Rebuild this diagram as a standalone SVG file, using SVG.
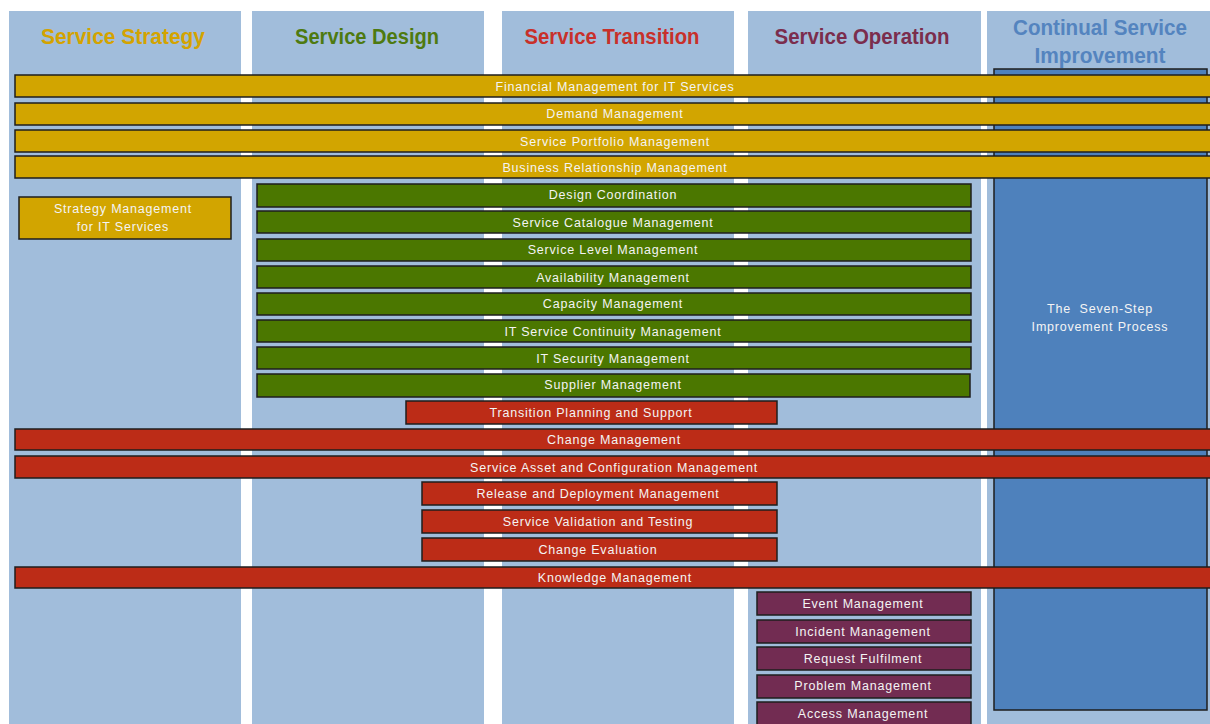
<svg xmlns="http://www.w3.org/2000/svg" width="1210" height="724" viewBox="0 0 1210 724">
<style>
.col{fill:#A1BDDB}
.hd{font-family:"Liberation Sans Narrow","Liberation Sans",Arial,sans-serif;font-weight:bold;font-size:22px;text-anchor:middle}
.bar rect{stroke:#1E1E1E;stroke-width:1.5}
.bar text{font-family:"Liberation Sans",Arial,sans-serif;font-size:12.5px;letter-spacing:0.8px;fill:#F4F4F4;text-anchor:middle}
.y rect{fill:#D2A500}
.g rect{fill:#4B7700}
.r rect{fill:#BC2C17}
.p rect{fill:#722C52}
</style>
<rect width="1210" height="724" fill="#FFFFFF"/>
<g id="columns">
<rect class="col" x="9" y="11" width="232" height="713"/>
<rect class="col" x="252" y="11" width="232" height="713"/>
<rect class="col" x="502" y="11" width="232" height="713"/>
<rect class="col" x="748" y="11" width="233" height="713"/>
<rect class="col" x="987" y="11" width="223" height="713"/>
<text class="hd" x="123" y="44" fill="#D4A300" textLength="164" lengthAdjust="spacingAndGlyphs">Service Strategy</text>
<text class="hd" x="367" y="44" fill="#4E7A10" textLength="144" lengthAdjust="spacingAndGlyphs">Service Design</text>
<text class="hd" x="612" y="44" fill="#C8302A" textLength="175" lengthAdjust="spacingAndGlyphs">Service Transition</text>
<text class="hd" x="862" y="44" fill="#7B2D4D" textLength="175" lengthAdjust="spacingAndGlyphs">Service Operation</text>
<text class="hd" x="1100" y="35" fill="#5484BF" textLength="174" lengthAdjust="spacingAndGlyphs">Continual Service</text>
<text class="hd" x="1100" y="63" fill="#5484BF" textLength="131" lengthAdjust="spacingAndGlyphs">Improvement</text>
</g>
<g id="csi" class="bar">
<rect x="994" y="69" width="213" height="641" fill="#4E81BC"/>
<text x="1100" y="313">The&#160; Seven-Step</text>
<text x="1100" y="331">Improvement Process</text>
</g>
<g id="financial" class="bar y"><rect x="15" y="75" width="1200" height="22"/><text x="615" y="91">Financial Management for IT Services</text></g>
<g id="demand" class="bar y"><rect x="15" y="103" width="1200" height="22"/><text x="615" y="118">Demand Management</text></g>
<g id="portfolio" class="bar y"><rect x="15" y="130" width="1200" height="22"/><text x="615" y="146">Service Portfolio Management</text></g>
<g id="brm" class="bar y"><rect x="15" y="156" width="1200" height="22"/><text x="615" y="172">Business Relationship Management</text></g>
<g id="strategy" class="bar y"><rect x="19" y="197" width="212" height="42"/><text x="123" y="213">Strategy Management</text><text x="123" y="231">for IT Services</text></g>
<g id="design-coord" class="bar g"><rect x="257" y="184" width="714" height="23"/><text x="613" y="199">Design Coordination</text></g>
<g id="catalogue" class="bar g"><rect x="257" y="211" width="714" height="22"/><text x="613" y="227">Service Catalogue Management</text></g>
<g id="slm" class="bar g"><rect x="257" y="239" width="714" height="22"/><text x="613" y="254">Service Level Management</text></g>
<g id="availability" class="bar g"><rect x="257" y="266" width="714" height="22"/><text x="613" y="282">Availability Management</text></g>
<g id="capacity" class="bar g"><rect x="257" y="293" width="714" height="22"/><text x="613" y="308">Capacity Management</text></g>
<g id="itscm" class="bar g"><rect x="257" y="320" width="714" height="22"/><text x="613" y="336">IT Service Continuity Management</text></g>
<g id="security" class="bar g"><rect x="257" y="347" width="714" height="22"/><text x="613" y="363">IT Security Management</text></g>
<g id="supplier" class="bar g"><rect x="257" y="374" width="713" height="23"/><text x="613" y="389">Supplier Management</text></g>
<g id="tps" class="bar r"><rect x="406" y="401" width="371" height="23"/><text x="591" y="417">Transition Planning and Support</text></g>
<g id="change" class="bar r"><rect x="15" y="429" width="1200" height="21"/><text x="614" y="444">Change Management</text></g>
<g id="sacm" class="bar r"><rect x="15" y="456" width="1200" height="22"/><text x="614" y="472">Service Asset and Configuration Management</text></g>
<g id="release" class="bar r"><rect x="422" y="482" width="355" height="23"/><text x="598" y="498">Release and Deployment Management</text></g>
<g id="svt" class="bar r"><rect x="422" y="510" width="355" height="23"/><text x="598" y="526">Service Validation and Testing</text></g>
<g id="evaluation" class="bar r"><rect x="422" y="538" width="355" height="23"/><text x="598" y="554">Change Evaluation</text></g>
<g id="knowledge" class="bar r"><rect x="15" y="567" width="1200" height="21"/><text x="615" y="582">Knowledge Management</text></g>
<g id="event" class="bar p"><rect x="757" y="592" width="214" height="23"/><text x="863" y="608">Event Management</text></g>
<g id="incident" class="bar p"><rect x="757" y="620" width="214" height="23"/><text x="863" y="636">Incident Management</text></g>
<g id="request" class="bar p"><rect x="757" y="647" width="214" height="23"/><text x="863" y="663">Request Fulfilment</text></g>
<g id="problem" class="bar p"><rect x="757" y="675" width="214" height="23"/><text x="863" y="690">Problem Management</text></g>
<g id="access" class="bar p"><rect x="757" y="702" width="214" height="23"/><text x="863" y="718">Access Management</text></g>
</svg>
